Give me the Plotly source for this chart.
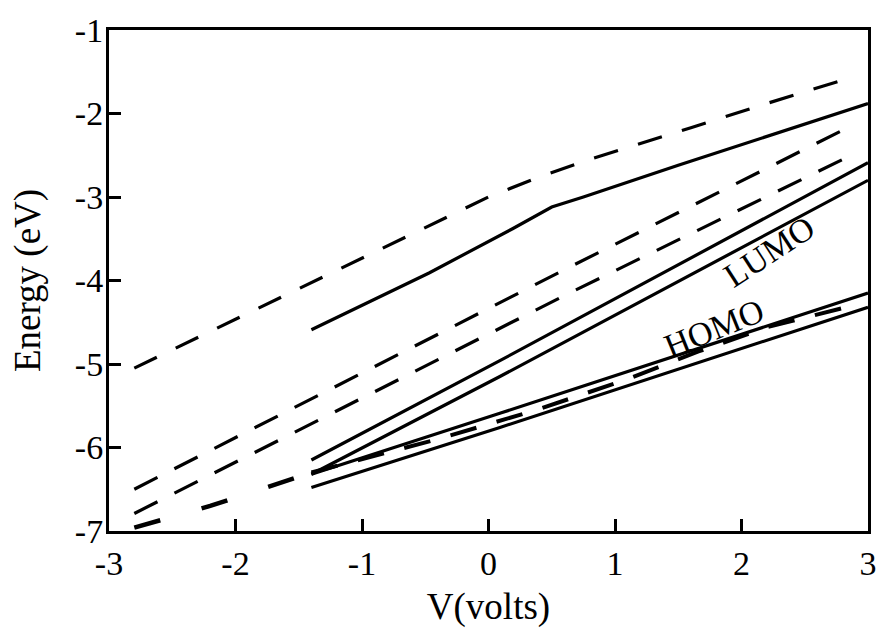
import plotly.graph_objects as go

# ---- data ----
v_top_dash = [-2.8, -1.4, -0.5, 0.0, 0.4, 0.8, 1.6, 2.2, 2.8]
e_top_dash = [-5.05, -4.02, -3.36, -3.0, -2.76, -2.55, -2.17, -1.88, -1.60]

v_top_solid = [-1.4, -0.47, 0.19, 0.5, 0.75, 1.5, 3.0]
e_top_solid = [-4.59, -3.91, -3.38, -3.12, -3.0, -2.62, -1.88]

v_mid_dash_a = [-2.8, -1.4, 0.64, 2.8]
e_mid_dash_a = [-6.50, -5.42, -3.84, -2.20]
v_mid_dash_b = [-2.8, -1.4, 0.64, 2.8]
e_mid_dash_b = [-6.79, -5.72, -4.15, -2.55]

v_lumo = [-1.4, 0.09, 3.0]
e_lumo_upper = [-6.15, -4.96, -2.59]
e_lumo_lower = [-6.32, -5.15, -2.80]

v_homo = [-1.4, 0.09, 3.0]
e_homo_upper = [-6.32, -5.59, -4.15]
e_homo_lower = [-6.48, -5.76, -4.32]

v_homo_dash = [-2.8, -2.2, -1.4, -0.4, 0.4, 1.1, 1.66, 2.2, 2.8]
e_homo_dash = [-6.96, -6.70, -6.30, -5.90, -5.54, -5.18, -4.85, -4.56, -4.33]

x_tick_vals = [-3, -2, -1, 0, 1, 2, 3]
x_tick_labels = ["-3", "-2", "-1", "0", "1", "2", "3"]
y_tick_vals = [-7, -6, -5, -4, -3, -2, -1]
y_tick_labels = ["-7", "-6", "-5", "-4", "-3", "-2", "-1"]

label_text = ["LUMO", "HOMO"]
label_v = [2.22, 1.78]
label_e = [-3.65, -4.57]
label_angle = [-33, -22]

FONT = "Liberation Serif, Times New Roman, serif"

fig = go.Figure()

def add(x, y, dash, width=3.2):
    fig.add_trace(go.Scatter(x=x, y=y, mode="lines",
                             line=dict(color="black", width=width, dash=dash),
                             showlegend=False, hoverinfo="skip"))

add(v_top_dash, e_top_dash, "25px,21px")
add(v_top_solid, e_top_solid, "solid")
add(v_mid_dash_a, e_mid_dash_a, "26px,19px")
add(v_mid_dash_b, e_mid_dash_b, "26px,19px")
add(v_lumo, e_lumo_upper, "solid")
add(v_lumo, e_lumo_lower, "solid")
add(v_homo, e_homo_upper, "solid")
add(v_homo, e_homo_lower, "solid")
# HOMO dashed: wider spacing left of -1.4 V, tighter to the right
add(v_homo_dash[:3], e_homo_dash[:3], "27px,43px", width=4.5)
add(v_homo_dash[2:], e_homo_dash[2:], "27px,21px", width=4)

for t, xv, yv, a in zip(label_text, label_v, label_e, label_angle):
    fig.add_annotation(x=xv, y=yv, text=t, showarrow=False, textangle=a,
                       font=dict(family=FONT, size=34, color="black"))

axis_common = dict(showline=True, linecolor="black", linewidth=3, mirror=True,
                   ticks="inside", ticklen=12, tickwidth=3, tickcolor="black",
                   showgrid=False, zeroline=False, automargin=False,
                   tickfont=dict(family=FONT, size=34, color="black"))

fig.update_xaxes(range=[-3, 3], tickvals=x_tick_vals, ticktext=x_tick_labels,
                 title=dict(text="V(volts)", font=dict(family=FONT, size=37, color="black"),
                            standoff=15),
                 **axis_common)
fig.update_yaxes(range=[-7, -1], tickvals=y_tick_vals, ticktext=y_tick_labels,
                 ticklabelstandoff=-4,
                 title=dict(text="Energy (eV)", font=dict(family=FONT, size=37, color="black"),
                            standoff=23),
                 **axis_common)

fig.update_layout(width=880, height=628, margin=dict(l=109, r=12, t=30, b=97),
                  paper_bgcolor="white", plot_bgcolor="white")

fig.write_html("out.html")
